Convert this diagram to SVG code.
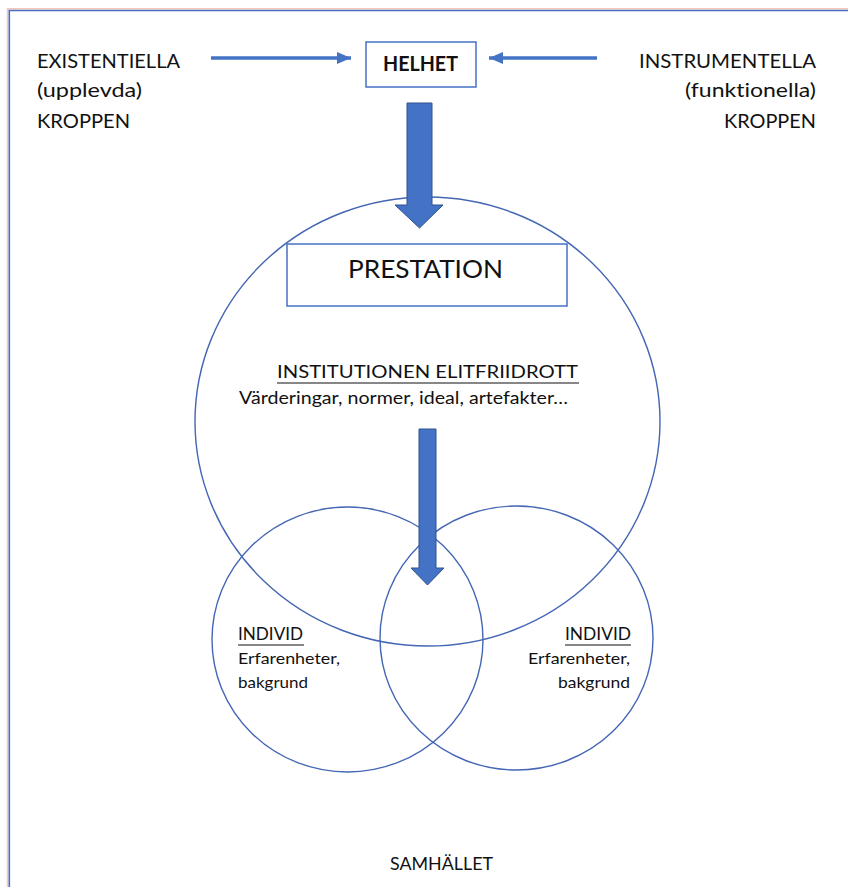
<svg xmlns="http://www.w3.org/2000/svg" width="848" height="887" viewBox="0 0 848 887">
<style>
.t{font-family:Lato,"Open Sans","Liberation Sans",sans-serif;fill:#111;font-variant-ligatures:none;}
.ring{fill:none;stroke:#4466B4;stroke-width:1.4;}
.box{fill:#fff;stroke:#4472C4;stroke-width:1.5;}
.ln{stroke:#4472C4;stroke-width:3.5;fill:none;}
.big{fill:#4472C4;stroke:#2F528F;stroke-width:1;}
.ul{stroke:#111;stroke-width:1.2;}
</style>
<defs>
<marker id="ah" viewBox="0 0 14 12" refX="14" refY="6" markerWidth="14" markerHeight="12" markerUnits="userSpaceOnUse" orient="auto">
<path d="M0,0 L14,6 L0,12 Z" fill="#4472C4"/>
</marker>
</defs>
<rect width="848" height="887" fill="#fff"/>
<g id="frame">
<path d="M7.5,887 V8.8 H848" fill="none" stroke="#F5C9B8" stroke-width="1.5"/>
<path d="M9.3,887 V10.5 H848" fill="none" stroke="#4A6CC0" stroke-width="1.6"/>
</g>
<g id="circles">
<ellipse id="institution" class="ring" cx="427.5" cy="421.5" rx="232.5" ry="224.5"/>
<ellipse id="individ-left" class="ring" cx="347.5" cy="639.5" rx="135.5" ry="132.5"/>
<ellipse id="individ-right" class="ring" cx="516.5" cy="638" rx="136.5" ry="132"/>
</g>
<g id="connectors">
<line class="ln" x1="211" y1="58" x2="351" y2="58" marker-end="url(#ah)"/>
<line class="ln" x1="597" y1="58" x2="489" y2="58" marker-end="url(#ah)"/>
<path class="big" d="M407,103 H432 V205 H443 L419.5,228 L395,205 H407 Z"/>
<path class="big" d="M419,429 H436 V568 H444 L427.5,585 L411,568 H419 Z"/>
</g>
<g id="existentiella">
<text class="t" x="37" y="68" font-size="20" textLength="143" lengthAdjust="spacingAndGlyphs">EXISTENTIELLA</text>
<text class="t" x="37" y="97" font-size="20" textLength="105" lengthAdjust="spacingAndGlyphs">(upplevda)</text>
<text class="t" x="37" y="128" font-size="20" textLength="93" lengthAdjust="spacingAndGlyphs">KROPPEN</text>
</g>
<g id="instrumentella">
<text class="t" x="639" y="68" font-size="20" textLength="177" lengthAdjust="spacingAndGlyphs">INSTRUMENTELLA</text>
<text class="t" x="685" y="97" font-size="20" textLength="131" lengthAdjust="spacingAndGlyphs">(funktionella)</text>
<text class="t" x="724" y="128" font-size="20" textLength="92" lengthAdjust="spacingAndGlyphs">KROPPEN</text>
</g>
<g id="helhet">
<rect class="box" x="366" y="42" width="110" height="45"/>
<text class="t" x="383" y="71" font-size="20" font-weight="bold" textLength="75" lengthAdjust="spacingAndGlyphs">HELHET</text>
</g>
<g id="prestation">
<rect class="box" x="287" y="244" width="280" height="62"/>
<text class="t" x="348" y="278" font-size="25" textLength="155" lengthAdjust="spacingAndGlyphs">PRESTATION</text>
</g>
<g id="institutionen">
<text class="t" x="277" y="378" font-size="18" textLength="301" lengthAdjust="spacingAndGlyphs">INSTITUTIONEN ELITFRIIDROTT</text>
<line class="ul" x1="277" y1="383" x2="579" y2="383"/>
<text class="t" x="239" y="404" font-size="18" textLength="329" lengthAdjust="spacingAndGlyphs">Värderingar, normer, ideal, artefakter…</text>
</g>
<g id="individ1">
<text class="t" x="238" y="640" font-size="18" textLength="65" lengthAdjust="spacingAndGlyphs">INDIVID</text>
<line class="ul" x1="238" y1="645" x2="304" y2="645"/>
<text class="t" x="238" y="664" font-size="16" textLength="102" lengthAdjust="spacingAndGlyphs">Erfarenheter,</text>
<text class="t" x="238" y="688" font-size="16" textLength="70" lengthAdjust="spacingAndGlyphs">bakgrund</text>
</g>
<g id="individ2">
<text class="t" x="565" y="640" font-size="18" textLength="66" lengthAdjust="spacingAndGlyphs">INDIVID</text>
<line class="ul" x1="565" y1="645" x2="631" y2="645"/>
<text class="t" x="528" y="664" font-size="16" textLength="102" lengthAdjust="spacingAndGlyphs">Erfarenheter,</text>
<text class="t" x="558" y="688" font-size="16" textLength="72" lengthAdjust="spacingAndGlyphs">bakgrund</text>
</g>
<g id="samhallet">
<text class="t" x="390" y="870" font-size="17" textLength="103" lengthAdjust="spacingAndGlyphs">SAMHÄLLET</text>
</g>
</svg>
